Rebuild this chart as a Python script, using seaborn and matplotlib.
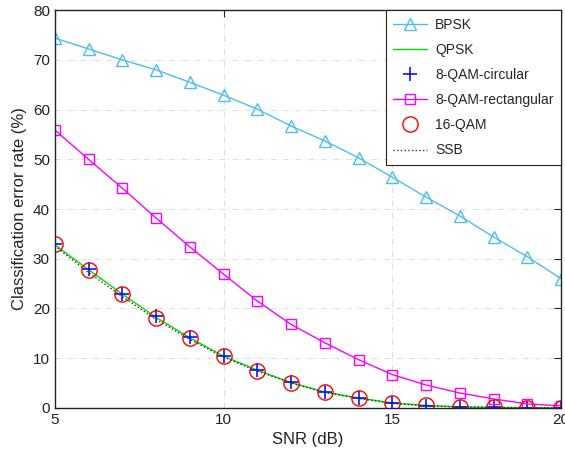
import matplotlib
matplotlib.use('Agg')
import matplotlib.pyplot as plt
import seaborn as sns

snr = [5, 6, 7, 8, 9, 10, 11, 12, 13, 14, 15, 16, 17, 18, 19, 20]
bpsk = [74.4, 72.2, 70.0, 68.0, 65.5, 62.9, 60.1, 56.7, 53.7, 50.3, 46.4, 42.4, 38.6, 34.4, 30.4, 26.0]
qpsk = [32.8, 27.8, 22.9, 18.2, 14.1, 10.4, 7.6, 5.1, 3.2, 2.0, 1.0, 0.5, 0.2, 0.1, 0.05, 0.0]
qam8_circ = [32.9, 27.9, 23.0, 18.5, 14.3, 10.5, 7.7, 5.2, 3.2, 2.0, 1.0, 0.4, 0.2, 0.1, 0.05, 0.0]
qam8_rect = [55.9, 50.0, 44.2, 38.2, 32.4, 26.9, 21.5, 16.8, 13.1, 9.7, 6.7, 4.6, 3.0, 1.8, 0.8, 0.4]
qam16 = [33.0, 27.7, 22.9, 18.0, 14.0, 10.4, 7.5, 5.0, 3.1, 1.9, 1.0, 0.5, 0.2, 0.1, 0.05, 0.0]
ssb = [32.6, 27.2, 22.4, 17.8, 13.8, 10.2, 7.4, 5.0, 3.1, 1.9, 0.9, 0.4, 0.2, 0.1, 0.05, 0.0]

sns.set_style('white')
plt.rcParams['font.family'] = ['Liberation Sans', 'DejaVu Sans']

fig = plt.figure(figsize=(5.65, 4.63), dpi=100)
ax = fig.add_axes([0.097, 0.119, 0.896, 0.859])

sns.lineplot(x=snr, y=bpsk, ax=ax, color='#4DBEEE', lw=1, marker='^', markersize=9,
             markerfacecolor='none', markeredgecolor='#4DBEEE', markeredgewidth=1, label='BPSK')
sns.lineplot(x=snr, y=qpsk, ax=ax, color='#00E000', lw=1, label='QPSK')
ax.plot(snr, qam8_circ, ls='none', marker='+', markersize=10, markeredgewidth=1.2,
        color='#1010FF', label='8-QAM-circular')
sns.lineplot(x=snr, y=qam8_rect, ax=ax, color='#FF00FF', lw=1, marker='s', markersize=7,
             markerfacecolor='none', markeredgecolor='#FF00FF', markeredgewidth=1, label='8-QAM-rectangular')
ax.plot(snr, qam16, ls='none', marker='o', markersize=11, markerfacecolor='none',
        markeredgecolor='#FF0000', markeredgewidth=1, label='16-QAM')
sns.lineplot(x=snr, y=ssb, ax=ax, color='#333333', lw=1, ls=':', label='SSB')

ax.set_xlim(5, 20)
ax.set_ylim(0, 80)
ax.set_xticks([5, 10, 15, 20])
ax.set_yticks(range(0, 81, 10))
ax.grid(True, ls=(0, (6, 3, 1, 3)), color='#DDDDDD', lw=0.7)
ax.tick_params(direction='in', length=5, labelsize=11, color='#222222', top=True, right=True,
               labelcolor='#222222')
for s in ax.spines.values():
    s.set_color('#222222')
    s.set_linewidth(1)
ax.set_xlabel('SNR (dB)', fontsize=12, color='#222222')
ax.set_ylabel('Classification error rate (%)', fontsize=12, color='#222222')

leg = ax.legend(loc='upper right', fontsize=10, frameon=True, fancybox=False,
                edgecolor='#222222', framealpha=1, borderaxespad=0, handlelength=2.4,
                handletextpad=0.6, labelspacing=0.8, borderpad=0.55)
leg.get_frame().set_linewidth(0.8)

fig.savefig('out.png', dpi=100)
